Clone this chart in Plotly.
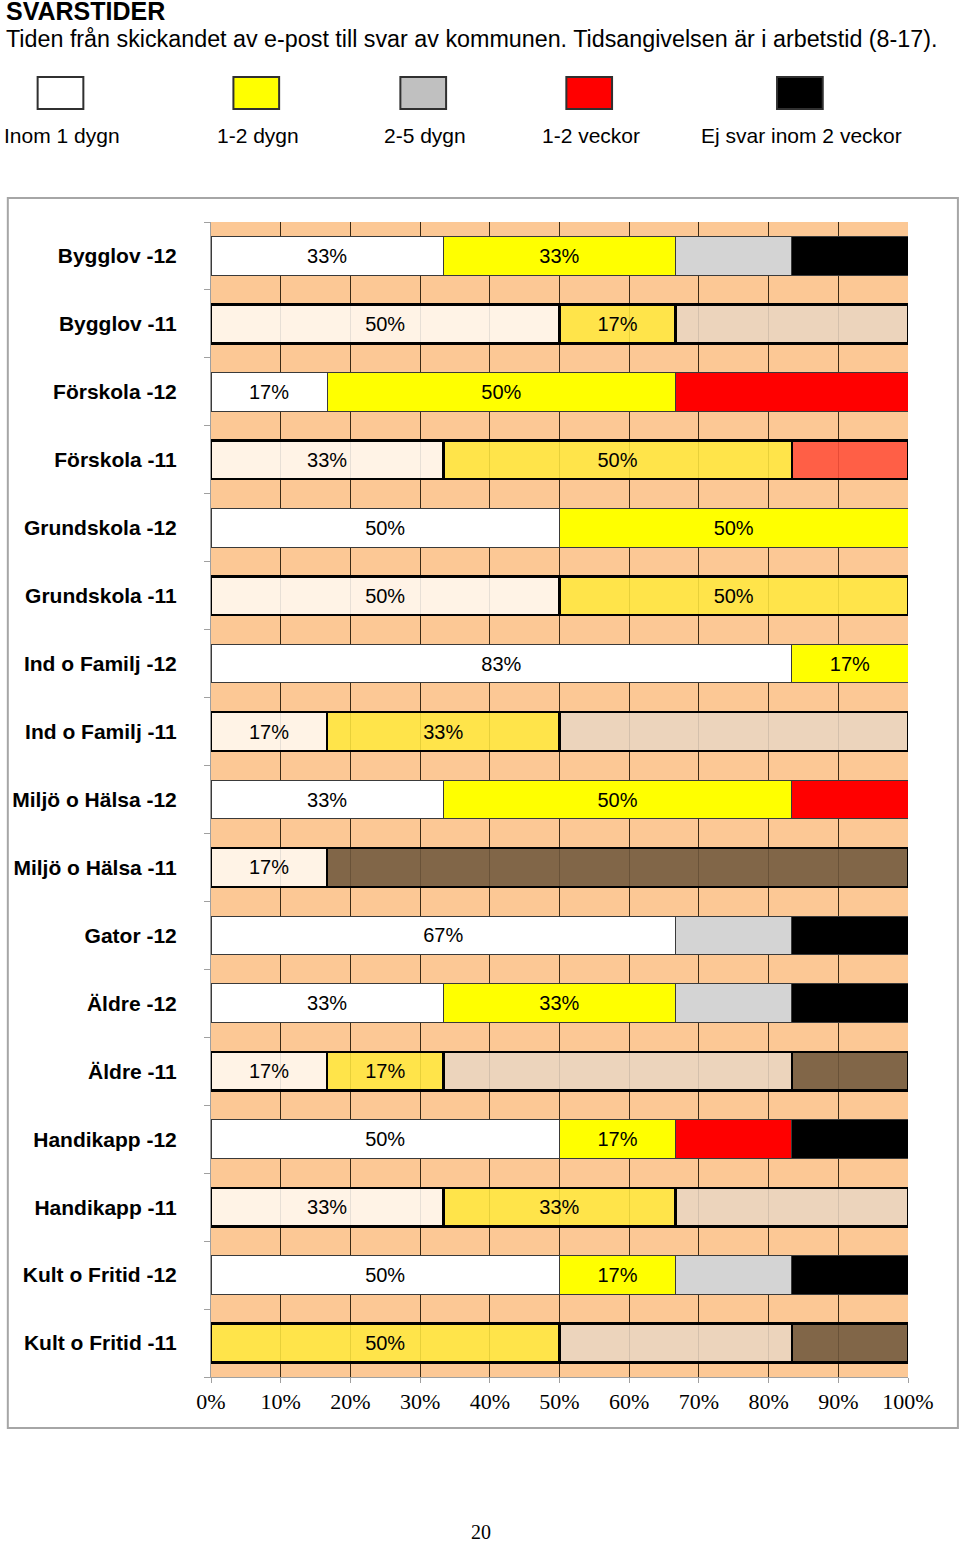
import plotly.graph_objects as go

# rows, top to bottom
rows = ["Bygglov -12", "Bygglov -11", "Förskola -12", "Förskola -11",
        "Grundskola -12", "Grundskola -11", "Ind o Familj -12", "Ind o Familj -11",
        "Miljö o Hälsa -12", "Miljö o Hälsa -11", "Gator -12", "Äldre -12",
        "Äldre -11", "Handikapp -12", "Handikapp -11", "Kult o Fritid -12",
        "Kult o Fritid -11"]

categories = ["Inom 1 dygn", "1-2 dygn", "2-5 dygn", "1-2 veckor", "Ej svar inom 2 veckor"]

# share of replies (%), None = no share
inom_1_dygn = [33.33, 50, 16.67, 33.33, 50, 50, 83.33, 16.67, 33.33, 16.67, 66.67, 33.33, 16.67, 50, 33.33, 50, None]
dygn_1_2 = [33.33, 16.67, 50, 50, 50, 50, 16.67, 33.33, 50, None, None, 33.33, 16.67, 16.67, 33.33, 16.67, 50]
dygn_2_5 = [16.67, 33.33, None, None, None, None, None, 50, None, None, 16.67, 16.67, 50, None, 33.33, 16.67, 33.33]
veckor_1_2 = [None, None, 33.33, 16.67, None, None, None, None, 16.67, None, None, None, None, 16.67, None, None, None]
ej_svar = [16.67, None, None, None, None, None, None, None, None, 83.33, 16.67, 16.67, 16.67, 16.67, None, 16.67, 16.67]

series = [inom_1_dygn, dygn_1_2, dygn_2_5, veckor_1_2, ej_svar]
labelled = [True, True, False, False, False]

# colours: 2012 rows solid, 2011 rows see-through with heavy outline
colors_12 = ["#FFFFFF", "#FFFF00", "#D4D4D4", "#FF0000", "#000000"]
colors_11 = ["rgba(255,248,241,0.88)", "rgba(255,231,64,0.88)", "rgba(233,213,194,0.88)",
             "rgba(255,80,59,0.88)", "rgba(111,88,62,0.88)"]
legend_colors = ["#FFFFFF", "#FFFF00", "#C0C0C0", "#FF0000", "#000000"]

FONT = "Liberation Sans, Arial, sans-serif"
SERIF = "Liberation Serif, Times New Roman, serif"

# figure size
W, H = 960, 1543


# the page comes out a touch narrower than the figure, so map wanted
# screen x-positions back to figure pixels
def fx(sx):
    return (sx - 4.5) / 0.9948


L, R = round(fx(206)), round(W - fx(908))
T, B = 222, 166


def px_x(sx):
    return (fx(sx) - L) / (W - L - R)


def px_y(py):
    return (H - B - py) / (H - T - B)


fig = go.Figure()

for i, (name, vals) in enumerate(zip(categories, series)):
    is11 = [r.endswith("-11") for r in rows]
    fig.add_trace(go.Bar(
        y=rows, x=vals, name=name, orientation="h",
        marker=dict(
            color=[colors_11[i] if o else colors_12[i] for o in is11],
            line=dict(color=["#000000" if o else "#3A3A3A" for o in is11],
                      width=[2.5 if o else 1 for o in is11]),
        ),
        texttemplate="%{x:.0f}%" if labelled[i] else None,
        textposition="inside" if labelled[i] else "none",
        insidetextanchor="middle",
        textangle=0,
        constraintext="none",
        textfont=dict(family=FONT, size=20, color="#000000"),
        showlegend=False,
        hoverinfo="x+y+name",
    ))

shapes = []
annotations = []

# chart frame
shapes.append(dict(type="rect", xref="paper", yref="paper",
                   x0=px_x(2), x1=px_x(958), y0=px_y(198), y1=px_y(1428),
                   line=dict(color="#A6A6A6", width=2), fillcolor="rgba(0,0,0,0)", layer="below"))

# custom legend: swatch above label
swatch_centers = [55, 252, 420, 587, 799]
for cx, name, col in zip(swatch_centers, categories, legend_colors):
    shapes.append(dict(type="rect", xref="paper", yref="paper",
                       x0=px_x(cx - 23), x1=px_x(cx + 23), y0=px_y(77), y1=px_y(109),
                       line=dict(color="#303030", width=2), fillcolor=col))
    annotations.append(dict(text=name, xref="paper", yref="paper",
                            x=px_x(cx + 2), y=px_y(136), xanchor="center", yanchor="middle",
                            showarrow=False, font=dict(family=FONT, size=21, color="#000000")))

annotations.append(dict(text="<b>SVARSTIDER</b>", xref="paper", yref="paper",
                        x=px_x(-2), y=px_y(11), xanchor="left", yanchor="middle",
                        showarrow=False, font=dict(family=FONT, size=25, color="#000000")))
annotations.append(dict(text="Tiden från skickandet av e-post till svar av kommunen. "
                             "Tidsangivelsen är i arbetstid (8-17).",
                        xref="paper", yref="paper",
                        x=px_x(-2), y=px_y(39), xanchor="left", yanchor="middle",
                        showarrow=False, font=dict(family=FONT, size=23.3, color="#000000")))
annotations.append(dict(text="20", xref="paper", yref="paper",
                        x=px_x(478), y=px_y(1532), xanchor="center", yanchor="middle",
                        showarrow=False, font=dict(family=SERIF, size=20, color="#000000")))

fig.update_layout(
    width=W, height=H,
    margin=dict(l=L, r=R, t=T, b=B),
    barmode="stack",
    bargap=0.43,
    paper_bgcolor="#FFFFFF",
    plot_bgcolor="#FCC895",
    shapes=shapes,
    annotations=annotations,
    xaxis=dict(
        range=[0, 100], dtick=10, ticksuffix="%",
        showgrid=True, gridcolor="#3C2A14", gridwidth=1, zeroline=False,
        showline=True, linecolor="#A0A0A0", linewidth=1,
        ticks="outside", ticklen=5, tickcolor="#A0A0A0",
        tickfont=dict(family=SERIF, size=22, color="#000000"),
        fixedrange=True,
    ),
    yaxis=dict(
        autorange="reversed", type="category",
        showgrid=False, showline=True, linecolor="#A0A0A0", linewidth=1,
        ticks="outside", tickson="boundaries", ticklen=6, tickcolor="#A0A0A0",
        ticklabelstandoff=29,
        tickfont=dict(family=FONT, size=21, color="#000000"),
        fixedrange=True,
    ),
    font=dict(family=FONT),
)

# bold row labels
fig.update_yaxes(tickvals=rows, ticktext=["<b>" + r + "</b>" for r in rows])

# drop the browser's default 8px body margin and any scrollbars so the figure
# fills the window exactly
fig.write_html(
    "out.html",
    config={"displayModeBar": False},
    post_script="document.body.style.margin='0';"
                "document.documentElement.style.overflow='hidden';"
                "document.body.style.overflow='hidden';",
)
